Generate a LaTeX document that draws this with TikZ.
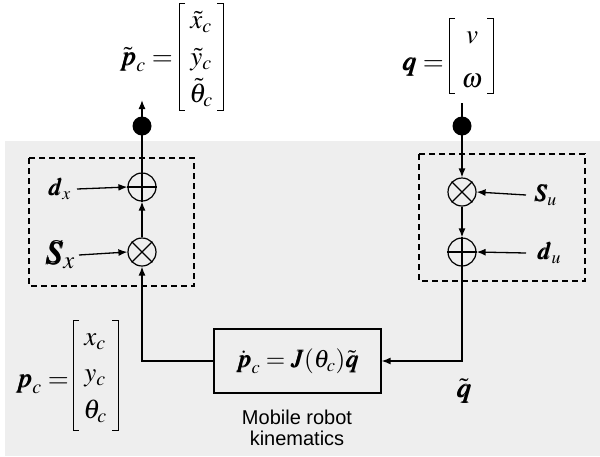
\documentclass[tikz,border=0pt]{standalone}
\usepackage{amsmath}
\usepackage{mathptmx}
\usepackage{bm}
\usepackage[no-math]{fontspec}
\newfontfamily\arialfont{Liberation Sans}
\usetikzlibrary{arrows.meta}
\definecolor{bgc}{HTML}{EEEEEE}
\begin{document}
\begin{tikzpicture}[x=1pt,y=-1pt,
  sumnode/.style={circle,draw,line width=1.2pt,minimum size=28pt,inner sep=0pt},
  conn/.style={line width=1.3pt,-{Latex[length=9pt,width=7pt]}},
  sig/.style={circle,fill=black,minimum size=19pt,inner sep=0pt},
  dbox/.style={line width=1.2pt,dash pattern=on 6pt off 4pt},
  lbl/.style={inner sep=0pt,font=\fontsize{24}{28}\selectfont},
  mlbl/.style={inner sep=0pt,anchor=base,font=\fontsize{27}{30}\selectfont},
  brk/.style={line width=1pt}]
\useasboundingbox (0,0) rectangle (600,456);
\fill[bgc] (5,141) rectangle (600,456);
\draw[dbox] (29,158) rectangle (194,286);
\draw[dbox] (419,154) rectangle (585,281);

% summing/multiplying junctions
\node[sumnode] (ax) at (142,187) {};
\node[sumnode] (mx) at (142,252) {};
\node[sumnode] (mu) at (462,192) {};
\node[sumnode] (au) at (462,252) {};
\draw[line width=1.2pt] (ax.north)--(ax.south) (ax.west)--(ax.east);
\draw[line width=1.2pt] (au.north)--(au.south) (au.west)--(au.east);
\draw[line width=1.2pt] (mx.north east)--(mx.south west) (mx.north west)--(mx.south east);
\draw[line width=1.2pt] (mu.north east)--(mu.south west) (mu.north west)--(mu.south east);

\coordinate (outtop) at (142,100);
\coordinate (intop) at (462,103);

% kinematics box
\node[draw,line width=1.2pt,minimum width=167pt,minimum height=64pt,inner sep=0pt,
  font=\fontsize{25}{29}\selectfont] (kin) at (297.5,361)
  {$\dot{\bm p}_c = \bm J(\theta_c)\tilde{\bm q}$};
\node[inner sep=0pt,align=center,font=\arialfont\fontsize{20}{21.5}\selectfont] (kinlbl) at (297,428)
  {Mobile robot\\kinematics};

% labels
\node[lbl,anchor=east] (dxl) at (71,189) {$\bm d_x$};
\node[lbl,anchor=east,font=\fontsize{33}{36}\selectfont] (sxl) at (75,255) {$\bm S_x$};
\node[lbl,anchor=west] (sul) at (534,195) {$\bm S_u$};
\node[lbl,anchor=west] (dul) at (537,253) {$\bm d_u$};
\node[lbl,font=\fontsize{28}{32}\selectfont] (qt) at (464,391) {$\tilde{\bm q}$};

% output vector p~_c
\node[mlbl,anchor=base east] (ptl) at (173,65) {$\tilde{\bm p}_c =$};
\node[mlbl] (pt1) at (201,28) {$\tilde x_c$};
\node[mlbl] (pt2) at (201,65) {$\tilde y_c$};
\node[mlbl] (pt3) at (201,102) {$\tilde \theta_c$};
\draw[brk] (185,3) -- (179,3) -- (179,110) -- (185,110);
\draw[brk] (217,3) -- (223,3) -- (223,110) -- (217,110);

% input vector q
\node[mlbl,anchor=base east] (ql) at (444,70) {$\bm q =$};
\node[mlbl] (q1) at (472,43) {$v$};
\node[mlbl] (q2) at (472,87) {$\omega$};
\draw[brk] (455,18) -- (449,18) -- (449,93) -- (455,93);
\draw[brk] (487,18) -- (493,18) -- (493,93) -- (487,93);

% state vector p_c
\node[mlbl,anchor=base east] (pcl) at (69,387) {$\bm p_c =$};
\node[mlbl] (pc1) at (95,345) {$x_c$};
\node[mlbl] (pc2) at (95,381) {$y_c$};
\node[mlbl] (pc3) at (95,418) {$\theta_c$};
\draw[brk] (79,320) -- (73,320) -- (73,430) -- (79,430);
\draw[brk] (112,320) -- (118,320) -- (118,430) -- (112,430);

% connectors
\draw[conn] (ax.north) -- (outtop);
\draw[conn] (mx.north) -- (ax.south);
\draw[conn] (kin.west) -| (mx.south);
\draw[conn] (intop) -- (mu.north);
\draw[conn] (mu.south) -- (au.north);
\draw[conn] (au.south) |- (kin.east);
\draw[conn] ([xshift=6pt]dxl.east) -- (ax.west);
\draw[conn] ([xshift=4pt]sxl.east) -- (mx.west);
\draw[conn] ([xshift=-8pt]sul.west) -- (mu.east);
\draw[conn] ([xshift=-11pt]dul.west) -- (au.east);

% signal dots
\node[sig] (dotx) at (142,126) {};
\node[sig] (dotu) at (462,126) {};
\end{tikzpicture}
\end{document}
